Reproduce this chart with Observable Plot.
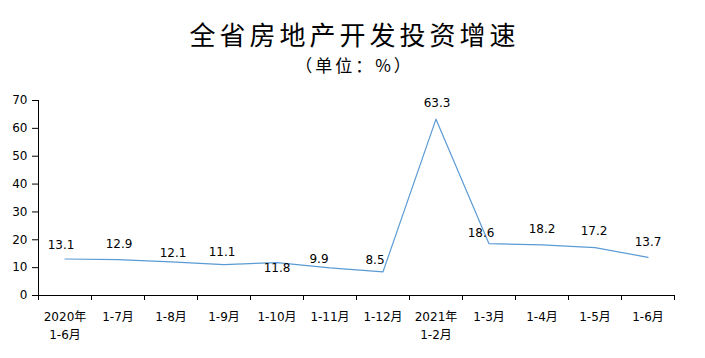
<!DOCTYPE html>
<html>
<head>
<meta charset="utf-8">
<script src="https://cdn.jsdelivr.net/npm/d3@7"></script>
<script src="https://cdn.jsdelivr.net/npm/@observablehq/plot@0.6"></script>
<style>
  html, body { margin: 0; padding: 0; background: #fff; }
  #wrap { position: relative; width: 705px; height: 358px; overflow: hidden; }
  .title { position: absolute; left: 0; width: 705px; text-align: center; color: #000;
           font-family: "Noto Sans CJK SC", sans-serif; }
  #t1 { top: 16px; left: 2px; font-size: 26px; line-height: 36px; letter-spacing: 4px; }
  #t2 { top: 53px; left: 2px; font-size: 17px; line-height: 24px; letter-spacing: 3px; }
  #chart { position: absolute; left: 0; top: 80px; }
</style>
</head>
<body>
<div id="wrap">
  <div class="title" id="t1">全省房地产开发投资增速</div>
  <div class="title" id="t2">（单位：%）</div>
  <div id="chart"></div>
</div>
<script>
// ---- data ----
const categories = ["2020年\n1-6月", "1-7月", "1-8月", "1-9月", "1-10月", "1-11月", "1-12月",
                    "2021年\n1-2月", "1-3月", "1-4月", "1-5月", "1-6月"];
const growth = [13.1, 12.9, 12.1, 11.1, 11.8, 9.9, 8.5, 63.3, 18.6, 18.2, 17.2, 13.7];
const yTicks = [0, 10, 20, 30, 40, 50, 60, 70];

// ---- chart ----
const data = categories.map((c, i) => ({i, c, v: growth[i]}));
const boundaries = d3.range(categories.length + 1).map(i => i - 0.5);
const font = "'DejaVu Sans', 'Noto Sans CJK SC', sans-serif";
// label offsets (px) relative to each point
const nudge = [[-4,-14],[1,-15],[2,-9],[-2,-12],[0,6],[-11,-9],[-8,-12],[1,-16],[-8,-11],[0,-16],[-1,-16],[0,-15]];

const plot = Plot.plot({
  width: 705,
  height: 270,
  marginLeft: 38,
  marginRight: 31,
  marginTop: 20,
  marginBottom: 55,
  style: {fontFamily: font, fontSize: "12px", color: "#000", background: "transparent"},
  x: {type: "linear", domain: [-0.5, categories.length - 0.5], axis: null, label: null},
  y: {domain: [0, 70], axis: null, label: null},
  marks: [
    Plot.axisY({ticks: yTicks, tickSize: 6, tickPadding: 5, stroke: "#000", fill: "#000", fontSize: 12, label: null}),
    Plot.ruleX([boundaries[0]], {y1: 0, y2: 70, stroke: "#000"}),
    Plot.ruleY([0], {stroke: "#000"}),
    Plot.axisX({ticks: boundaries, tickSize: 5, tickFormat: () => "", stroke: "#000", label: null}),
    Plot.text(data, {x: "i", y: 0, text: "c", dy: 12, lineAnchor: "top", lineHeight: 1.55, fontSize: 12, fill: "#000"}),
    Plot.line(data, {x: "i", y: "v", stroke: "#5b9bd5", strokeWidth: 1.2}),
    ...data.map((d, k) => Plot.text([d], {x: "i", y: "v", text: d => d.v.toFixed(1), dx: nudge[k][0], dy: nudge[k][1], fontSize: 12, fill: "#000"}))
  ]
});
document.getElementById("chart").appendChild(plot);
</script>
</body>
</html>
